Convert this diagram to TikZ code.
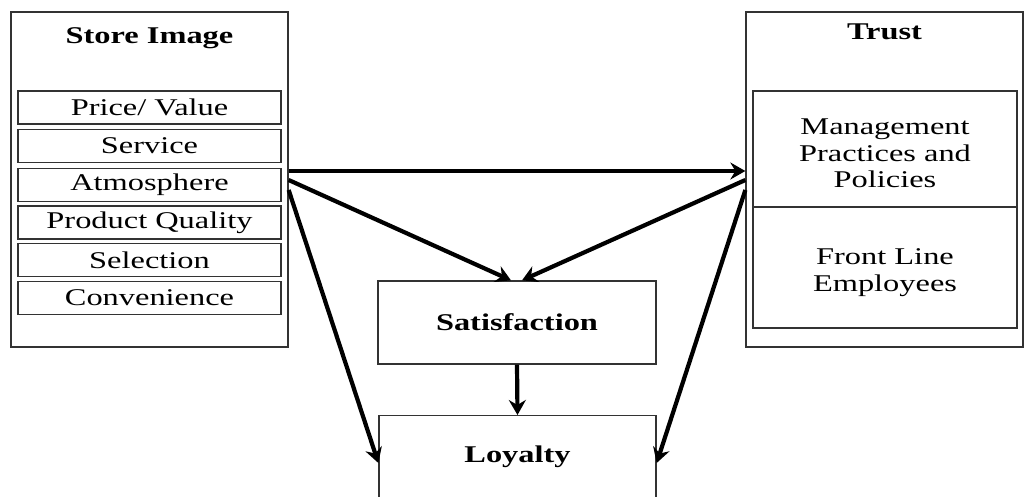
\documentclass[tikz,border=0pt]{standalone}
\usepackage{fontspec}
\setmainfont{Liberation Serif}[FakeStretch=1.35]
\usetikzlibrary{arrows.meta,calc}
\definecolor{boxgray}{HTML}{333333}

\begin{document}
\begin{tikzpicture}[x=1pt,y=-1pt,
  txt/.style={font=\fontsize{24}{26.5}\selectfont},
  hdr/.style={font=\bfseries\fontsize{24}{26.5}\selectfont, inner sep=0pt},
  panel/.style={draw=boxgray, line width=1.3pt, minimum width=277pt, minimum height=335pt, inner sep=0pt},
  item/.style={txt, draw=boxgray, line width=1.3pt, minimum width=263pt, minimum height=33pt, inner sep=0pt},
  part/.style={draw=boxgray, line width=1.3pt, minimum width=264pt, inner sep=0pt},
  partlabel/.style={txt, inner sep=0pt, align=center},
  stage/.style={hdr, draw=boxgray, line width=1.3pt, minimum width=278pt},
  flow/.style={line width=4.2pt, draw=black, -{Stealth[length=15pt,width=17pt,inset=5pt]}}
]
\useasboundingbox (0,0) rectangle (1024,497);

% Store image block with its attributes
\node[panel] (store) at (149.5,179.5) {};
\node[hdr] (storetitle) at (149.5,38) {Store Image};
\node[item] (price) at (149.5,107.5) {Price/ Value};
\node[item] (service) at (149.5,146) {Service};
\node[item] (atmos) at (149.5,185) {Atmosphere};
\node[item] (quality) at (149.5,222.5) {Product Quality};
\node[item] (select) at (149.5,260) {Selection};
\node[item] (conv) at (149.5,298) {Convenience};

% Trust block
\node[panel] (trust) at (884.5,179.5) {};
\node[hdr] (trusttitle) at (884.5,32) {Trust};
\node[part, minimum height=116pt] (mgmt) at (885,149) {};
\node[partlabel] (mgmttxt) at (885,153.5) {Management\\Practices and\\Policies};
\node[part, minimum height=121pt] (front) at (885,267.5) {};
\node[partlabel] (fronttxt) at (885,272.5) {Front Line\\Employees};

% Outcome blocks
\node[stage, minimum height=83pt] (sat) at (517,322.5) {Satisfaction};
\node[draw=boxgray, line width=1.3pt, minimum width=277pt, minimum height=110pt, anchor=north, inner sep=0pt] (loyal) at (517.5,415) {};
\node[hdr] (loyaltxt) at (517.5,457) {Loyalty};

% Paths between constructs
\draw[flow] ([yshift=8.5pt]store.east) -- ([yshift=8.5pt]trust.west);
\draw[flow] ([yshift=-0.5pt]store.east) -- ([xshift=-6pt]sat.north);
\draw[flow] ([yshift=-0.5pt]trust.west) -- ([xshift=5pt]sat.north);
\draw[flow] ([yshift=-10.5pt]store.east) -- ([yshift=-48pt]loyal.north west);
\draw[flow] ([yshift=-10.5pt]trust.west) -- ([yshift=-48pt]loyal.north east);
\draw[flow] (sat.south) -- (loyal.north);
\end{tikzpicture}
\end{document}
